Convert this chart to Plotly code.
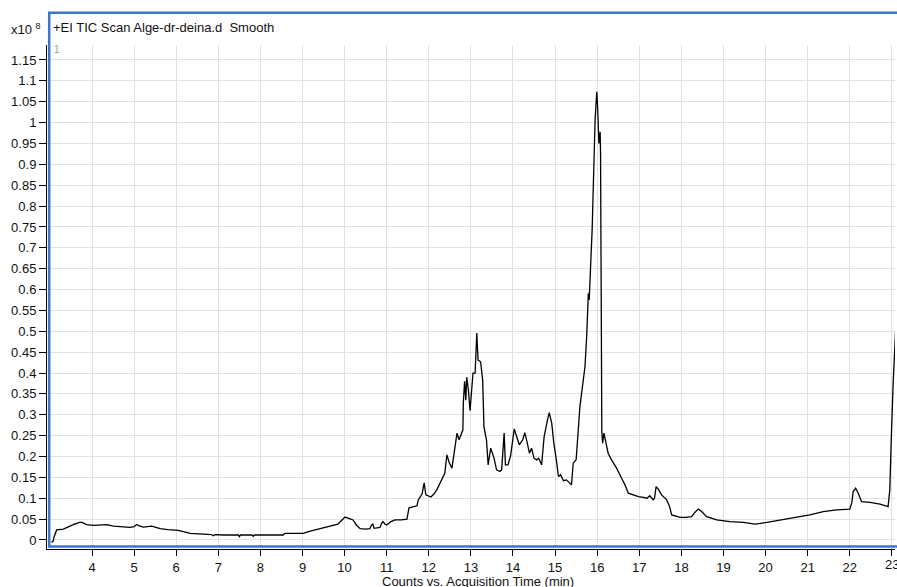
import plotly.graph_objects as go

# Acquisition time (min) and TIC counts (x10^8)
time_min = [3.04, 3.08, 3.10, 3.14, 3.16, 3.32, 3.40, 3.52, 3.58, 3.64, 3.70, 3.76, 3.82, 3.87,
            4.03, 4.20, 4.35, 4.51, 4.74, 4.90, 5.00, 5.06, 5.12, 5.22, 5.42, 5.50, 5.62, 5.80,
            5.93, 6.05, 6.17, 6.33, 6.64, 6.84, 6.88, 6.92, 7.12, 7.48, 7.50, 7.53, 7.80, 7.83,
            7.86, 8.31, 8.54, 8.58, 8.78, 9.02, 9.14, 9.30, 9.49, 9.60, 9.70, 9.84, 9.92, 10.01,
            10.10, 10.20, 10.28, 10.37, 10.50, 10.60, 10.64, 10.67, 10.70, 10.84, 10.88, 10.91,
            10.96, 11.00, 11.10, 11.20, 11.35, 11.48, 11.53, 11.65, 11.72, 11.75, 11.79, 11.84,
            11.89, 11.93, 12.05, 12.12, 12.19, 12.31, 12.38, 12.43, 12.48, 12.55, 12.60, 12.67,
            12.72, 12.81, 12.82, 12.85, 12.88, 12.90, 12.94, 12.98, 13.05, 13.10, 13.14, 13.17,
            13.23, 13.28, 13.31, 13.37, 13.41, 13.47, 13.55, 13.61, 13.69, 13.73, 13.79, 13.82,
            13.88, 13.94, 14.03, 14.09, 14.15, 14.23, 14.28, 14.34, 14.39, 14.44, 14.50, 14.56,
            14.61, 14.68, 14.74, 14.82, 14.86, 14.92, 14.97, 15.04, 15.08, 15.13, 15.20, 15.27,
            15.39, 15.43, 15.50, 15.59, 15.67, 15.71, 15.75, 15.79, 15.81, 15.85, 15.88, 15.91,
            15.95, 15.99, 16.01, 16.04, 16.07, 16.08, 16.10, 16.11, 16.13, 16.16, 16.21, 16.26,
            16.34, 16.39, 16.46, 16.58, 16.66, 16.74, 16.86, 16.98, 17.10, 17.18, 17.25, 17.33,
            17.36, 17.40, 17.45, 17.53, 17.65, 17.72, 17.77, 17.97, 18.10, 18.24, 18.32, 18.40,
            18.48, 18.60, 18.84, 19.15, 19.47, 19.75, 20.03, 20.34, 20.74, 21.05, 21.37, 21.69,
            22.00, 22.05, 22.08, 22.14, 22.20, 22.28, 22.48, 22.72, 22.91, 22.95, 22.99, 23.03,
            23.10]
counts_e8 = [-0.006, -0.002, 0.008, 0.022, 0.024, 0.026, 0.030, 0.036, 0.038, 0.040, 0.042, 0.042, 0.039, 0.037,
             0.035, 0.036, 0.037, 0.033, 0.032, 0.030, 0.032, 0.037, 0.034, 0.031, 0.033, 0.030, 0.027, 0.025,
             0.024, 0.023, 0.020, 0.016, 0.014, 0.013, 0.010, 0.013, 0.012, 0.012, 0.008, 0.012, 0.012, 0.009,
             0.012, 0.012, 0.012, 0.016, 0.016, 0.016, 0.020, 0.024, 0.028, 0.032, 0.034, 0.038, 0.046, 0.055,
             0.052, 0.048, 0.036, 0.027, 0.026, 0.027, 0.036, 0.038, 0.028, 0.030, 0.040, 0.044,
             0.038, 0.036, 0.044, 0.048, 0.048, 0.050, 0.077, 0.080, 0.082, 0.096, 0.103, 0.110,
             0.137, 0.108, 0.103, 0.110, 0.120, 0.144, 0.160, 0.204, 0.187, 0.172, 0.204, 0.256,
             0.240, 0.264, 0.328, 0.380, 0.335, 0.390, 0.360, 0.310, 0.400, 0.400, 0.496, 0.431,
             0.427, 0.383, 0.271, 0.240, 0.180, 0.220, 0.196, 0.168, 0.164, 0.168, 0.256, 0.180,
             0.180, 0.200, 0.266, 0.244, 0.228, 0.240, 0.257, 0.232, 0.208, 0.220, 0.196, 0.192,
             0.196, 0.180, 0.248, 0.288, 0.305, 0.280, 0.232, 0.184, 0.152, 0.156, 0.142, 0.144,
             0.132, 0.184, 0.192, 0.320, 0.383, 0.415, 0.487, 0.591, 0.575, 0.663, 0.743, 0.855,
             1.006, 1.074, 1.038, 0.950, 0.978, 0.926, 0.400, 0.260, 0.232, 0.256, 0.232, 0.208,
             0.192, 0.184, 0.172, 0.148, 0.132, 0.112, 0.108, 0.104, 0.102, 0.100, 0.106, 0.096,
             0.100, 0.128, 0.122, 0.108, 0.096, 0.080, 0.060, 0.054, 0.054, 0.056, 0.066, 0.074,
             0.068, 0.056, 0.048, 0.044, 0.042, 0.038, 0.042, 0.048, 0.054, 0.060, 0.068, 0.072,
             0.074, 0.090, 0.116, 0.124, 0.112, 0.092, 0.090, 0.086, 0.080, 0.120, 0.256, 0.375,
             0.527]

x_ticks = [4, 5, 6, 7, 8, 9, 10, 11, 12, 13, 14, 15, 16, 17, 18, 19, 20, 21, 22, 23]
y_ticks = [0, 0.05, 0.1, 0.15, 0.2, 0.25, 0.3, 0.35, 0.4, 0.45, 0.5, 0.55, 0.6, 0.65, 0.7,
           0.75, 0.8, 0.85, 0.9, 0.95, 1.0, 1.05, 1.1, 1.15]
y_tick_labels = ["0", "0.05", "0.1", "0.15", "0.2", "0.25", "0.3", "0.35", "0.4", "0.45", "0.5",
                 "0.55", "0.6", "0.65", "0.7", "0.75", "0.8", "0.85", "0.9", "0.95", "1", "1.05",
                 "1.1", "1.15"]
edge_tick = 23  # last tick label, cut by the right edge in the original

title_text = "+EI TIC Scan Alge-dr-deina.d\u00a0 Smooth"
x_title = "Counts vs. Acquisition Time (min)"

W, H = 897, 587
ML, MR, MT, MB = 47, 2, 45, 38
PW, PH = W - ML - MR, H - MT - MB


def px_x(p):
    return (p - ML) / PW


def px_y(p):
    return (H - MB - p) / PH


FONT = "Liberation Sans, Arial, sans-serif"
FS = 13

fig = go.Figure()
fig.add_trace(go.Scatter(x=time_min, y=counts_e8, mode="lines",
                         line=dict(color="#000000", width=1.3), showlegend=False,
                         hoverinfo="skip"))

fig.update_layout(
    width=W, height=H,
    margin=dict(l=ML, r=MR, t=MT, b=MB, pad=0, autoexpand=False),
    paper_bgcolor="white", plot_bgcolor="white",
    font=dict(family=FONT, size=FS, color="#111111"),
    xaxis=dict(range=[2.931, 23.074], tickvals=x_ticks, ticks="outside", ticklen=6,
               tickcolor="#000", tickwidth=1, showline=True, linecolor="#000", linewidth=1,
               showgrid=True, gridcolor="#e1e1e1", gridwidth=1, zeroline=False,
               automargin=False,
               tickfont=dict(family=FONT, size=FS, color="#111")),
    yaxis=dict(range=[-0.0216, 1.1859], tickvals=y_ticks, ticktext=y_tick_labels,
               ticks="outside", ticklen=7, tickcolor="#000", tickwidth=1, showline=True,
               linecolor="#000", linewidth=1, showgrid=True, gridcolor="#e1e1e1",
               gridwidth=1, zeroline=False, automargin=False,
               tickfont=dict(family=FONT, size=FS, color="#111")),
    shapes=[dict(type="rect", xref="paper", yref="paper",
                 x0=px_x(49.2), x1=px_x(899), y0=px_y(546.5), y1=px_y(12.8),
                 line=dict(color="#3b74d1", width=2.5), fillcolor="rgba(0,0,0,0)",
                 layer="above")],
    annotations=[
        dict(text=title_text, xref="paper", yref="paper", x=px_x(51), y=px_y(28),
             xanchor="left", yanchor="middle", showarrow=False,
             font=dict(family=FONT, size=FS, color="#111")),
        dict(text="x10 <sup>8</sup>", xref="paper", yref="paper", x=px_x(9), y=px_y(29),
             xanchor="left", yanchor="middle", showarrow=False,
             font=dict(family=FONT, size=FS, color="#111")),
        dict(text="1", xref="paper", yref="paper", x=px_x(52), y=px_y(50),
             xanchor="left", yanchor="middle", showarrow=False,
             font=dict(family=FONT, size=10, color="#9a9a9a")),
        dict(text=x_title, xref="paper", yref="paper", x=px_x(478), y=px_y(581.5),
             xanchor="center", yanchor="middle", showarrow=False,
             font=dict(family=FONT, size=FS, color="#111")),
        dict(text=str(edge_tick), xref="x", yref="paper", x=edge_tick, y=px_y(564),
             xanchor="center", yanchor="middle", showarrow=False,
             font=dict(family=FONT, size=FS, color="#111")),
    ],
)

fig.write_html("out.html", config={"displayModeBar": False},
               post_script="document.body.style.margin='0';document.body.style.padding='0';"
                           "document.documentElement.style.overflow='hidden';")
